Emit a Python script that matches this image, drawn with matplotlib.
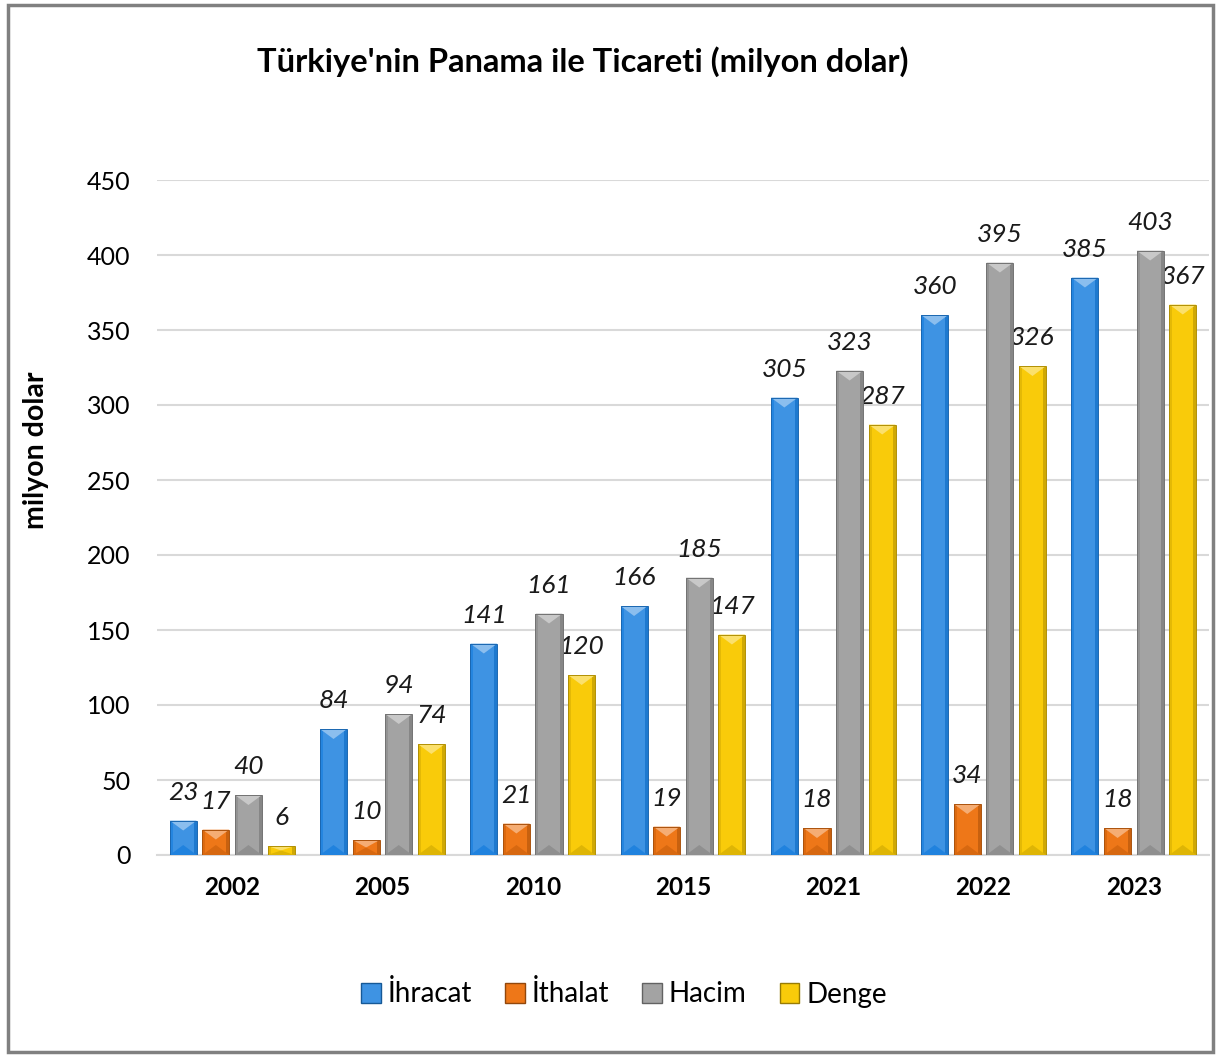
import matplotlib.pyplot as plt
import matplotlib
from matplotlib.patches import Polygon, Rectangle
import numpy as np
import colorsys
import matplotlib.colors as mcolors

plt.rcParams['font.family'] = ['Lato', 'DejaVu Sans']

years = ['2002', '2005', '2010', '2015', '2021', '2022', '2023']
ihracat = [23, 84, 141, 166, 305, 360, 385]
ithalat = [17, 10, 21, 19, 18, 34, 18]
hacim = [40, 94, 161, 185, 323, 395, 403]
denge = [6, 74, 120, 147, 287, 326, 367]

series_names = ['İhracat', 'İthalat', 'Hacim', 'Denge']
series_vals = [ihracat, ithalat, hacim, denge]
colors = ['#3E93E3', '#EE7718', '#A3A3A3', '#F9CB0A']


def shade(c, f):
    r, g, b = mcolors.to_rgb(c)
    h, l, s = colorsys.rgb_to_hls(r, g, b)
    l = max(0, min(1, l * f if f < 1 else l + (1 - l) * (f - 1)))
    return colorsys.hls_to_rgb(h, l, s)


def bevel_bar(ax, x0, w, h, col, px_x, px_y):
    # main body
    ax.add_patch(Rectangle((x0, 0), w, h, facecolor=col, lw=0, zorder=3))
    if h <= 0:
        return
    sx = 3 * px_x
    d = min(10 * px_y, h / 2)
    # side strips
    ax.add_patch(Rectangle((x0, 0), sx, h, facecolor=shade(col, 0.9), lw=0, zorder=3.1))
    ax.add_patch(Rectangle((x0 + w - sx, 0), sx, h, facecolor=shade(col, 0.82), lw=0, zorder=3.1))
    # top light triangle
    ax.add_patch(Polygon([(x0, h), (x0 + w, h), (x0 + w / 2, h - d)], closed=True,
                         facecolor=shade(col, 1.4), lw=0, zorder=3.2))
    # bottom dark triangle
    ax.add_patch(Polygon([(x0, 0), (x0 + w, 0), (x0 + w / 2, d)], closed=True,
                         facecolor=shade(col, 0.88), lw=0, zorder=3.2))
    ax.add_patch(Rectangle((x0, 0), w, h, facecolor='none', edgecolor=shade(col, 0.7), lw=0.7, zorder=3.3))


fig = plt.figure(figsize=(12.19, 10.56), dpi=100)
ax = fig.add_axes([157 / 1219, 201 / 1056, 1052 / 1219, 675 / 1056])

n = len(years)
x = np.arange(n)
step = 0.217
bw = 0.18
ax.set_xlim(-0.5, n - 0.5)
ax.set_ylim(0, 450)

px_x = n / 1052
px_y = 450 / 675

for i, (name, vals, col) in enumerate(zip(series_names, series_vals, colors)):
    off = (i - 1.5) * step
    for xi, v in zip(x, vals):
        bevel_bar(ax, xi + off - bw / 2, bw, v, col, px_x, px_y)
        ax.annotate(str(v), (xi + off, v), xytext=(0, 12), textcoords='offset points',
                    ha='center', va='bottom', fontsize=19, style='italic', color='#1a1a1a')
    # legend proxy
    ax.bar([0], [0], color=col, edgecolor=shade(col, 0.6), label=name)

ax.set_yticks(np.arange(0, 451, 50))
ax.yaxis.grid(True, color='#D9D9D9', lw=1.5)
ax.set_axisbelow(True)
ax.set_xticks(x)
ax.set_xticklabels(years, fontsize=17.5, fontweight='bold')
ax.tick_params(axis='y', labelsize=18, length=0, pad=19)
ax.tick_params(axis='x', length=0, pad=15)
for s in ['top', 'right', 'left']:
    ax.spines[s].set_visible(False)
ax.spines['bottom'].set_color('#D9D9D9')
ax.spines['bottom'].set_linewidth(1.5)

ax.set_ylabel('milyon dolar', fontsize=20.5, fontweight='bold')
ax.yaxis.set_label_coords(-0.103, 0.6)

fig.text(583 / 1219, 1 - 62 / 1056, "Türkiye'nin Panama ile Ticareti (milyon dolar)",
         ha='center', va='center', fontsize=23.5, fontweight='bold')

leg = fig.legend(loc='center', bbox_to_anchor=(624 / 1219, 1 - 994 / 1056), ncol=4,
                 frameon=False, fontsize=20, handlelength=0.7, handleheight=0.7,
                 handletextpad=0.25, columnspacing=1.2)

fig.add_artist(Rectangle((8 / 1219, 4 / 1056), 1205 / 1219, 1047 / 1056, transform=fig.transFigure,
                         facecolor='none', edgecolor='#808080', lw=2.5))

fig.savefig('out.png', dpi=100)
